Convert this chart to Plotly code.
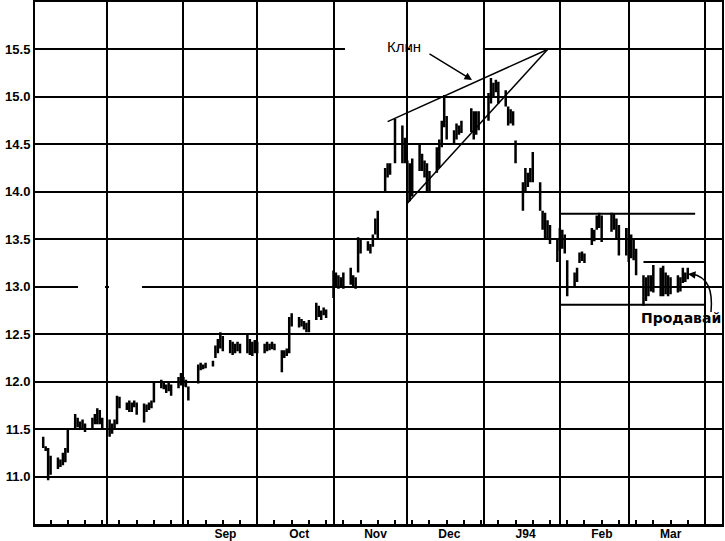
import pandas as pd
import plotly.graph_objects as go

# ---------------- data (daily bars: high / low / close) ----------------
holidays = ["1993-09-06", "1993-11-25", "1993-12-24", "1993-12-31", "1994-02-21"]

month_spans = [("1993-07-06", "1993-07-30"), ("1993-08-02", "1993-08-31"),
               ("1993-09-01", "1993-09-30"), ("1993-10-01", "1993-10-29"),
               ("1993-11-01", "1993-11-30"), ("1993-12-01", "1993-12-30"),
               ("1994-01-03", "1994-01-31"), ("1994-02-01", "1994-02-28"),
               ("1994-03-01", "1994-03-25")]

jul_hi = [11.42, 11.32, 11.30, 11.22, 11.20, 11.18, 11.25, 11.30, 11.50, 11.66, 11.62, 11.58, 11.60, 11.56, 11.62, 11.66, 11.72, 11.70, 11.62]
jul_lo = [11.30, 11.27, 10.96, 11.02, 11.08, 11.10, 11.12, 11.15, 11.25, 11.50, 11.52, 11.50, 11.50, 11.47, 11.50, 11.55, 11.55, 11.55, 11.50]
jul_cl = [11.32, 11.29, 11.05, 11.12, 11.12, 11.15, 11.20, 11.25, 11.48, 11.60, 11.55, 11.55, 11.55, 11.50, 11.60, 11.60, 11.65, 11.60, 11.55]

aug_hi = [11.60, 11.56, 11.60, 11.85, 11.84, 11.78, 11.80, 11.78, 11.80, 11.78, 11.77, 11.76, 11.78, 11.80, 12.00, 12.02, 11.99, 11.97, 12.00, 11.97, 12.05, 12.09]
aug_lo = [11.42, 11.45, 11.50, 11.55, 11.72, 11.70, 11.68, 11.68, 11.73, 11.65, 11.57, 11.68, 11.70, 11.72, 11.78, 11.93, 11.92, 11.88, 11.90, 11.85, 11.93, 11.96]
aug_cl = [11.45, 11.50, 11.55, 11.80, 11.78, 11.74, 11.72, 11.75, 11.76, 11.70, 11.65, 11.72, 11.75, 11.78, 11.98, 11.96, 11.95, 11.90, 11.95, 11.90, 12.00, 12.02]

sep_hi = [12.05, 12.02, 11.95, 12.18, 12.20, 12.18, 12.20, 12.22, 12.38, 12.45, 12.52, 12.48, 12.44, 12.42, 12.40, 12.42, 12.40, 12.50, 12.45, 12.42, 12.44]
sep_lo = [11.95, 11.94, 11.80, 11.98, 12.12, 12.13, 12.14, 12.16, 12.25, 12.30, 12.35, 12.32, 12.30, 12.28, 12.30, 12.32, 12.30, 12.30, 12.28, 12.27, 12.30]
sep_cl = [12.00, 11.96, 11.90, 12.15, 12.16, 12.15, 12.18, 12.20, 12.35, 12.40, 12.45, 12.40, 12.35, 12.30, 12.36, 12.38, 12.33, 12.45, 12.30, 12.35, 12.40]

oct_hi = [12.42, 12.40, 12.42, 12.40, 12.42, 12.40, 12.33, 12.33, 12.35, 12.68, 12.72, 12.68, 12.66, 12.64, 12.62, 12.65, 12.83, 12.80, 12.75, 12.78, 12.76]
oct_lo = [12.30, 12.30, 12.32, 12.33, 12.34, 12.33, 12.10, 12.25, 12.27, 12.30, 12.58, 12.57, 12.58, 12.55, 12.52, 12.52, 12.65, 12.68, 12.65, 12.70, 12.67]
oct_cl = [12.35, 12.35, 12.38, 12.36, 12.38, 12.35, 12.20, 12.30, 12.30, 12.62, 12.65, 12.62, 12.60, 12.58, 12.55, 12.60, 12.78, 12.72, 12.70, 12.75, 12.70]

nov_hi = [13.17, 13.15, 13.12, 13.10, 13.15, 13.20, 13.12, 13.10, 13.52, 13.50, 13.48, 13.45, 13.55, 13.72, 13.80, 14.25, 14.30, 14.30, 14.77, 14.70, 14.57]
nov_lo = [12.88, 13.00, 12.98, 13.00, 12.98, 13.02, 13.00, 12.98, 13.15, 13.35, 13.38, 13.35, 13.42, 13.55, 13.50, 14.00, 14.15, 14.18, 14.30, 14.30, 14.30]
nov_cl = [13.10, 13.05, 13.05, 13.05, 13.10, 13.12, 13.05, 13.00, 13.45, 13.40, 13.42, 13.40, 13.52, 13.65, 13.75, 14.20, 14.28, 14.22, 14.60, 14.40, 14.35]

dec_hi = [14.33, 14.30, 14.35, 14.50, 14.40, 14.33, 14.30, 14.22, 14.47, 14.55, 14.75, 15.02, 14.80, 14.65, 14.72, 14.70, 14.75, 14.88, 14.85, 14.85, 14.85]
dec_lo = [13.88, 13.90, 13.95, 14.22, 14.22, 14.15, 14.00, 14.00, 14.20, 14.25, 14.47, 14.68, 14.55, 14.50, 14.55, 14.60, 14.62, 14.63, 14.55, 14.60, 14.65]
dec_cl = [13.95, 14.00, 14.10, 14.30, 14.30, 14.20, 14.10, 14.10, 14.40, 14.50, 14.70, 14.80, 14.60, 14.55, 14.65, 14.65, 14.70, 14.80, 14.60, 14.75, 14.80]

jan_hi = [15.04, 15.20, 15.15, 15.18, 15.16, 15.07, 14.90, 14.87, 14.85, 14.54, 14.10, 14.25, 14.20, 14.25, 14.42, 14.10, 13.80, 13.78, 13.70, 13.65, 13.50]
jan_lo = [14.75, 14.93, 15.00, 15.05, 14.93, 14.90, 14.70, 14.72, 14.70, 14.30, 13.80, 14.00, 14.05, 14.10, 14.10, 13.80, 13.60, 13.50, 13.50, 13.45, 13.26]
jan_cl = [14.95, 15.10, 15.05, 15.10, 15.00, 14.95, 14.75, 14.80, 14.72, 14.35, 13.85, 14.20, 14.15, 14.20, 14.35, 13.85, 13.65, 13.55, 13.60, 13.50, 13.35]

feb_hi = [13.62, 13.60, 13.55, 13.28, 13.15, 13.20, 13.36, 13.37, 13.35, 13.62, 13.60, 13.75, 13.78, 13.75, 13.78, 13.77, 13.72, 13.65, 13.62]
feb_lo = [13.38, 13.40, 13.35, 12.90, 13.00, 13.05, 13.25, 13.27, 13.25, 13.44, 13.48, 13.60, 13.62, 13.47, 13.58, 13.60, 13.50, 13.33, 13.33]
feb_cl = [13.45, 13.50, 13.40, 12.95, 13.10, 13.18, 13.30, 13.32, 13.30, 13.55, 13.55, 13.72, 13.70, 13.55, 13.70, 13.65, 13.55, 13.40, 13.45]

mar_hi = [13.62, 13.55, 13.50, 13.40, 13.12, 13.10, 13.12, 13.12, 13.23, 13.20, 13.22, 13.15, 13.12, 13.10, 13.12, 13.10, 13.20, 13.15, 13.20]
mar_lo = [13.26, 13.30, 13.28, 13.12, 12.80, 12.85, 12.90, 12.95, 12.94, 12.90, 12.90, 12.92, 12.90, 12.92, 12.94, 12.95, 13.04, 13.05, 13.08]
mar_cl = [13.35, 13.40, 13.30, 13.15, 12.88, 13.00, 13.05, 13.10, 13.15, 13.10, 13.00, 13.05, 13.00, 13.05, 13.05, 13.08, 13.10, 13.10, 13.15]

y_ticks = [11.0, 11.5, 12.0, 12.5, 13.0, 13.5, 14.0, 14.5, 15.0, 15.5]
y_tick_labels = ["11.0", "11.5", "12.0", "12.5", "13.0", "13.5", "14.0", "14.5", "15.0", "15.5"]

month_starts = ["1993-08-01", "1993-09-01", "1993-10-01", "1993-11-01", "1993-12-01",
                "1994-01-01", "1994-02-01", "1994-03-01", "1994-04-01"]
month_labels = ["", "Sep", "Oct", "Nov", "Dec", "J94", "Feb", "Mar", ""]

# ---------------- assemble ----------------
his = [jul_hi, aug_hi, sep_hi, oct_hi, nov_hi, dec_hi, jan_hi, feb_hi, mar_hi]
los = [jul_lo, aug_lo, sep_lo, oct_lo, nov_lo, dec_lo, jan_lo, feb_lo, mar_lo]
cls = [jul_cl, aug_cl, sep_cl, oct_cl, nov_cl, dec_cl, jan_cl, feb_cl, mar_cl]

dates, high, low, close = [], [], [], []
for (a, b), h, l, c in zip(month_spans, his, los, cls):
    d = pd.bdate_range(a, b, freq="C", holidays=holidays)
    assert len(d) == len(h) == len(l) == len(c), (a, len(d), len(h), len(l), len(c))
    dates += list(d)
    high += h
    low += l
    close += c

fig = go.Figure(go.Ohlc(
    x=dates, open=close, high=high, low=low, close=close,
    increasing=dict(line=dict(color="black", width=2.5)),
    decreasing=dict(line=dict(color="black", width=2.5)),
    tickwidth=0.45, hoverinfo="skip", showlegend=False,
))

# breaks in the printed grid lines (white masks in empty areas of the grid)
for x0, x1, yc in [(0.4512, 0.5400, 15.5), (0.5460, 0.6520, 15.5),
                   (0.0626, 0.1019, 13.0), (0.1077, 0.1557, 13.0)]:
    fig.add_shape(type="rect", xref="paper", yref="y", x0=x0, x1=x1,
                  y0=yc - 0.025, y1=yc + 0.025, layer="above",
                  fillcolor="white", line=dict(width=0))

# wedge ("Клин") lines
fig.add_shape(type="line", x0="1993-11-23", y0=14.74, x1="1994-01-27", y1=15.5,
              line=dict(color="black", width=1.5))
fig.add_shape(type="line", x0="1993-12-01", y0=13.88, x1="1994-01-27", y1=15.5,
              line=dict(color="black", width=1.5))
# range lines
fig.add_shape(type="line", x0="1994-02-01", y0=13.77, x1="1994-03-28", y1=13.77,
              line=dict(color="black", width=2))
fig.add_shape(type="line", x0="1994-02-01", y0=12.81, x1="1994-04-01", y1=12.81,
              line=dict(color="black", width=2))
fig.add_shape(type="line", x0="1994-03-07", y0=13.26, x1="1994-04-01", y1=13.26,
              line=dict(color="black", width=2))
# curved arrow to last bar
fig.add_shape(type="path", xref="paper", yref="paper",
              path="M 0.9840,0.4061 C 0.9869,0.4483 0.9796,0.4732 0.9563,0.4789",
              line=dict(color="black", width=1.5))

fig.add_annotation(xref="paper", yref="paper", x=0.537, y=0.9138, text="Клин",
                   showarrow=False, xanchor="center", yanchor="middle",
                   font=dict(family="Liberation Sans", size=15, color="black"))
fig.add_annotation(xref="paper", yref="paper", x=0.6361, y=0.8506, text="",
                   showarrow=True, ax=-44, ay=-27, arrowhead=2, arrowsize=1,
                   arrowwidth=1.5, arrowcolor="black")
fig.add_annotation(xref="paper", yref="paper", x=0.9505, y=0.4789, text="",
                   showarrow=True, ax=7, ay=1, arrowhead=2, arrowsize=1,
                   arrowwidth=1.5, arrowcolor="black")
fig.add_annotation(xref="paper", yref="paper", x=1.0015, y=0.395, text="Продавай",
                   showarrow=False, xanchor="right", yanchor="middle",
                   font=dict(family="DejaVu Sans", size=14, color="black", weight="bold"))

fig.update_layout(
    width=725, height=541,
    margin=dict(l=35, r=3, t=2, b=17, autoexpand=False),
    paper_bgcolor="white", plot_bgcolor="white",
    xaxis=dict(
        type="date", range=["1993-07-02 16:00", "1994-04-07 22:00"],
        tickmode="array", tickvals=month_starts, ticktext=month_labels,
        ticks="", ticklabelshift=42, ticklabelstandoff=-3, automargin=False,
        tickfont=dict(family="Liberation Sans", size=12, color="black", weight="bold"),
        showgrid=True, gridcolor="black", gridwidth=2,
        showline=True, linecolor="black", linewidth=3, mirror=True,
        rangeslider=dict(visible=False),
        minor=dict(ticks="inside", ticklen=4, tickwidth=1.5, tickcolor="black",
                   tick0="1993-07-09", dtick=7 * 86400000, showgrid=False),
        zeroline=False,
    ),
    yaxis=dict(
        range=[10.5, 16.0], tickmode="array", tickvals=y_ticks, ticktext=y_tick_labels,
        ticks="", automargin=False,
        tickfont=dict(family="Liberation Sans", size=13, color="black", weight="bold"),
        showgrid=True, gridcolor="black", gridwidth=2,
        showline=True, linecolor="black", linewidth=2, mirror=True, zeroline=False,
    ),
)

fig.write_html("out.html", config={"displayModeBar": False},
               post_script="document.body.style.margin='0';")
